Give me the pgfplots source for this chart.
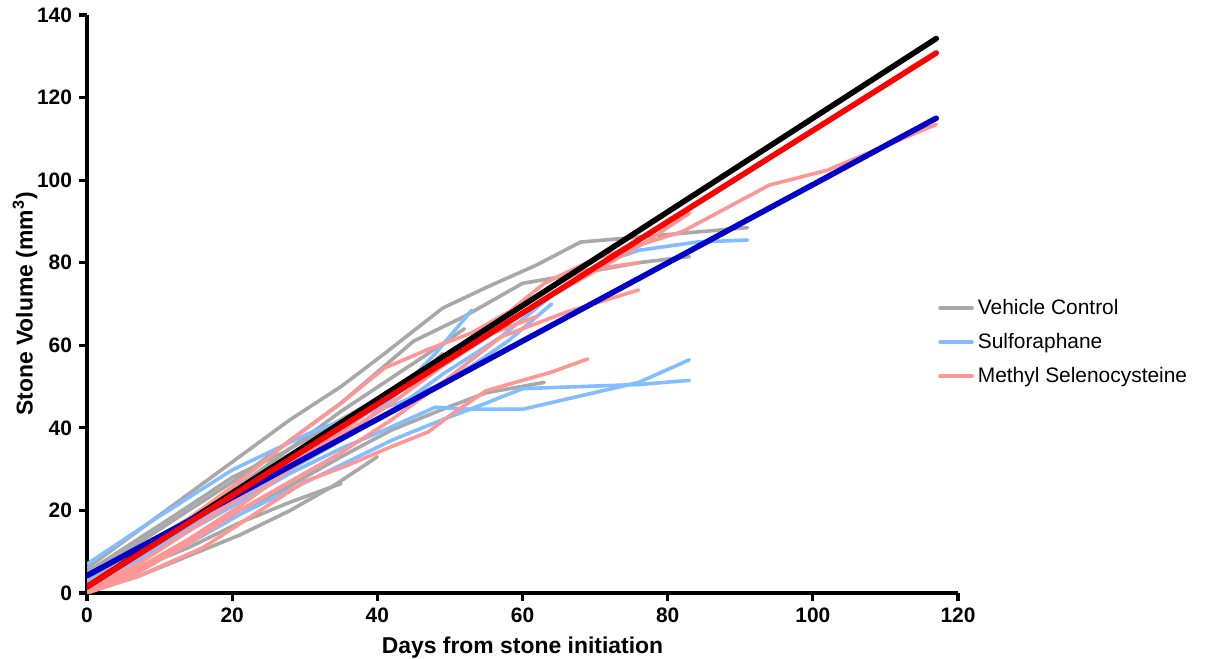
\documentclass[border=0pt]{standalone}
\usepackage{fontspec}
\setmainfont{Liberation Sans}
\usepackage{pgfplots}
\pgfplotsset{compat=1.18}

\definecolor{vgray}{RGB}{168,168,168}
\definecolor{sblue}{RGB}{130,190,255}
\definecolor{mred}{RGB}{255,150,150}
\definecolor{fitblue}{RGB}{0,0,200}
\definecolor{fitred}{RGB}{255,0,0}

\begin{document}
\begin{tikzpicture}
\begin{axis}[
  name=ax,
  scale only axis, width=435.5bp, height=289bp,
  xmin=0, xmax=120, ymin=0, ymax=140,
  axis x line*=bottom, axis y line*=left,
  axis line style={line width=1.6bp},
  xtick={0,20,...,120}, ytick={0,20,...,140},
  tick align=outside, major tick length=4bp,
  tick style={line width=1.6bp, black},
  ticklabel style={font=\bfseries\fontsize{10.5}{12}\selectfont},
  /pgf/number format/assume math mode=true,
  xlabel={Days from stone initiation},
  ylabel={Stone Volume (mm\textsuperscript{3})},
  ylabel shift=-7bp,
  label style={font=\bfseries\fontsize{11.5}{13}\selectfont},
  every axis plot/.append style={line width=1.8bp, line join=round, line cap=round},
  legend cell align=left,
  legend style={at={(rel axis cs:0.97,0.434)}, anchor=west, draw=none, fill=none,
    font=\fontsize{10.5}{12}\selectfont, row sep=4bp},
  legend image code/.code={\draw[#1] (0bp,0bp) -- (16bp,0bp);},
]
% vehicle control
\addplot[vgray] coordinates {(0,6)(7,15)(14,24)(21,33)(28,42)(35,50)(41,58)(49,69)(55,74)(62,79.5)(68,85)(91,88.5)};
\addlegendentry{Vehicle Control}
\addplot[vgray, forget plot] coordinates {(0,4)(7,12)(14,20)(21,28)(28,37)(35,46)(41,55)(45,61)(52,67)(60,75)(65,76.5)(76,80)(83,81.5)};
\addplot[vgray, forget plot] coordinates {(0,2)(7,6)(14,12)(21,19)(28,26)(35,33)(42,39.5)(49,44.5)(55,48.5)(63,51)};
\addplot[vgray, forget plot] coordinates {(0,1)(7,4)(14,9)(21,14)(28,20)(34,26)(40,33)};
\addplot[vgray, forget plot] coordinates {(0,1.5)(7,6)(14,11)(21,17)(28,22)(35,26.5)};
\addplot[vgray, forget plot] coordinates {(0,3)(7,10)(14,18)(21,26)(28,35)(35,44)(41,51)(47,58)(52,64)};
\addplot[vgray, forget plot] coordinates {(0,5)(7,13)(14,21)(20,28)(27,34)(33,40)(40,47)(46,53)(49,58)};
% sulforaphane
\addplot[sblue] coordinates {(0,3)(7,8)(14,16)(21,23)(28,30)(35,37)(42,44)(49,53)(57,62)(64,72)(71,80)(76,83)(84,85)(91,85.5)};
\addlegendentry{Sulforaphane}
\addplot[sblue, forget plot] coordinates {(0,2)(7,8)(14,15)(21,22)(28,29)(35,35)(41,39.5)(48,45)(53,44.5)(60,44.5)(76,51)(83,56.5)};
\addplot[sblue, forget plot] coordinates {(0,1)(7,5)(14,12)(21,19)(28,25)(35,31)(42,37)(49,42)(55,46)(60,49.5)(76,50.5)(83,51.5)};
\addplot[sblue, forget plot] coordinates {(0,4)(7,10)(14,16)(21,23)(28,30)(35,37)(42,47)(48,58)(53,68.5)};
\addplot[sblue, forget plot] coordinates {(0,7)(9,17.5)(20,29.8)(25,34)(31,39)(37,43)(43,46)(48,50)(53,55)(58,61)(64,70)};
% methyl selenocysteine
\addplot[mred] coordinates {(0,1)(7,7)(14,15)(21,23)(28,31)(35,39)(42,48)(49,56)(56,65)(63,75)(70,81)(82,87.5)(94,98.8)(102,102.4)(117,113.5)};
\addlegendentry{Methyl Selenocysteine}
\addplot[mred, forget plot] coordinates {(0,2)(7,9)(14,17)(21,25)(28,33)(35,41)(42,49)(49,57)(56,64)(63,71)(70,78)(77,85)(83,92)};
\addplot[mred, forget plot] coordinates {(0,2)(7,10)(14,18)(21,27)(28,37)(35,46)(41,54.5)(47,59)(53,63)(60,70)(68,78)(76,80)};
\addplot[mred, forget plot] coordinates {(0,0.5)(7,5)(14,12)(21,20)(28,27)(35,34)(42,42)(49,51)(57,62)(66,68)(76,73.4)};
\addplot[mred, forget plot] coordinates {(0,0)(7,4)(16,11)(23,19)(30,27)(36,31)(42,35.5)(47,39)(50,43)(55,49)(64,53.5)(69,56.7)};
\addplot[mred, forget plot] coordinates {(0,1)(7,6)(14,13)(21,21)(28,30)(35,38)(42,46)(49,55)(56,63)(62,67)};
% fitted lines
\addplot[black, line width=2.8bp, forget plot] coordinates {(0,1.5)(117,134.3)};
\addplot[fitblue, line width=2.8bp, forget plot] coordinates {(0,4.2)(117,115)};
\addplot[fitred, line width=2.8bp, forget plot] coordinates {(0,1.5)(117,130.8)};
\end{axis}
\pgfresetboundingbox
\path[use as bounding box] (ax.south west) ++(-43.5bp,-33bp) rectangle ++(606bp,329.5bp);
\end{tikzpicture}
\end{document}
